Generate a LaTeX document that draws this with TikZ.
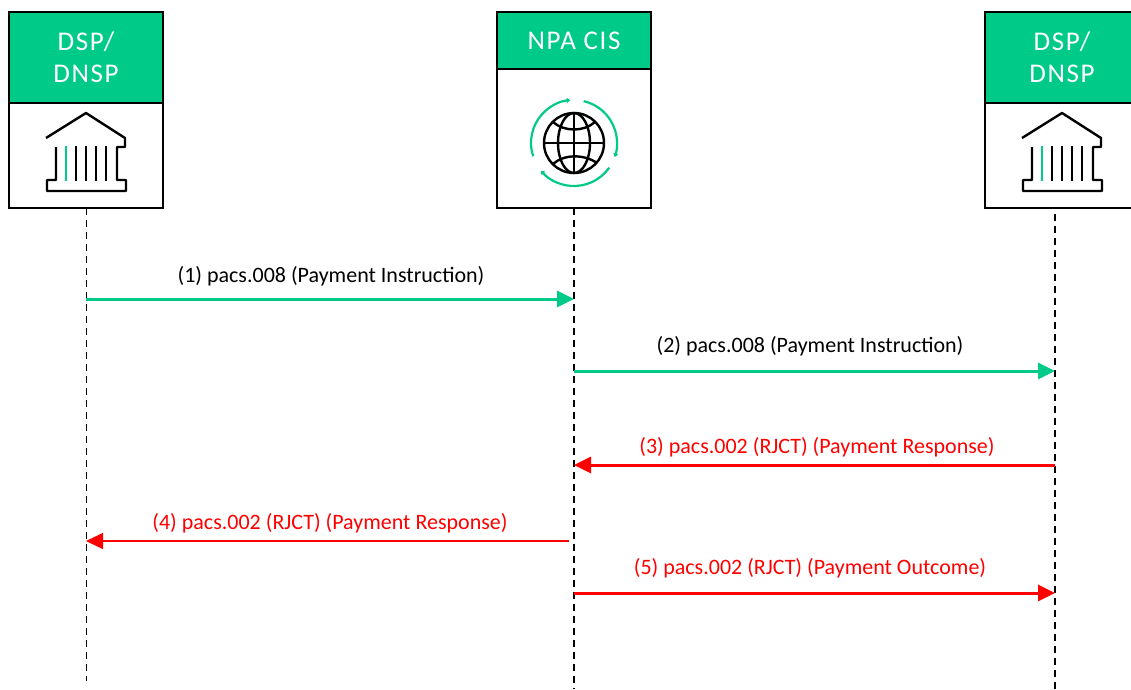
\documentclass[tikz,border=0pt]{standalone}
\usepackage{fontspec}
\setmainfont{Carlito}
\newfontfamily\headfont[LetterSpace=6]{Carlito}
\usetikzlibrary{arrows.meta}
\definecolor{npgreen}{HTML}{00CA88}
\definecolor{npred}{HTML}{FF0000}
\tikzset{
  x=1pt,y=-1pt,
  head/.style={draw=black,line width=2.2pt,outer sep=0pt,fill=npgreen,text=white,minimum width=154pt,inner sep=0pt,align=center,font=\headfont\fontsize{27}{32}\selectfont,anchor=north west},
  body/.style={draw=black,line width=2pt,outer sep=0pt,fill=white,minimum width=154pt,inner sep=0pt,anchor=north west},
  lifethin/.style={draw=black,line width=1pt,dash pattern=on 7pt off 5pt},
  lifethick/.style={draw=black,line width=2.4pt,dash pattern=on 7pt off 5pt},
  msggreen/.style={draw=npgreen,line width=3pt,-{Triangle[length=17pt,width=16pt]}},
  msgred/.style={draw=npred,line width=3pt,-{Triangle[length=17pt,width=16pt]}},
  msgredthin/.style={draw=npred,line width=1.2pt,-{Triangle[length=17pt,width=16pt]}},
  lbl/.style={font=\fontsize{22}{24}\selectfont,inner sep=0pt},
  icon/.style={draw=black,line width=2.4pt,line join=round},
  iconacc/.style={draw=npgreen,line width=2.2pt},
  bank/.pic={
    \draw[icon] (-40,25) -- (0,0) -- (39,25) -- (39,34) -- (31,34) -- (31,67) -- (40,67) -- (40,78) -- (-39,78) -- (-39,67) -- (-30,67) -- (-30,34);
    \draw[iconacc] (-20.3,33) -- (-20.3,68);
    \foreach \cx in {-10,0,10,20}{\draw[icon] (\cx,33) -- (\cx,68);}
  }
}
\begin{document}
\begin{tikzpicture}
\useasboundingbox (0,0) rectangle (1131,689);
% lane boxes
\node[body,minimum height=105pt] (b1) at (9,103) {};
\node[head,minimum height=91pt] (h1) at (9,12) {DSP/\\DNSP};
\node[body,minimum height=139pt] (b2) at (497,69) {};
\node[head,minimum height=57pt] (h2) at (497,12) {NPA CIS};
\node[body,minimum height=105pt] (b3) at (985,103) {};
\node[head,minimum height=91pt] (h3) at (985,12) {DSP/\\DNSP};
% lifeline coordinates
\coordinate (l1a) at (86,208); \coordinate (l1b) at (86,681);
\coordinate (l2a) at (574,208); \coordinate (l2b) at (574,689);
\coordinate (l3a) at (1055,214); \coordinate (l3b) at (1055,689);
\draw[lifethin] (l1a) -- (l1b);
\draw[lifethick] (l2a) -- (l2b);
\draw[lifethick] (l3a) -- (l3b);
% icons
\pic at (86,113) {bank};
\pic at (1062,113) {bank};
\begin{scope}[shift={(574,143)}]
  \draw[icon] (0,0) circle (30);
  \draw[icon] (0,-30) -- (0,30) (-30,0) -- (30,0);
  \draw[icon] (0,0) ellipse (16 and 30);
  \draw[icon] (-21,-21) .. controls (-10,-11) and (10,-11) .. (21,-21);
  \draw[icon] (-21,21) .. controls (-10,11) and (10,11) .. (23,20);
  \draw[iconacc,-{Triangle[length=3.5pt,width=5pt]}] (198:43 and -43) arc (-198:-95:43);
  \draw[iconacc,-{Triangle[length=3.5pt,width=5pt]}] (-77:43) arc (-77:19:43);
  \draw[iconacc,-{Triangle[length=3.5pt,width=5pt]}] (35:43) arc (35:140:43);
\end{scope}
% messages
\coordinate (m1a) at (86,299); \coordinate (m1b) at (574,299);
\coordinate (m2a) at (574,371); \coordinate (m2b) at (1055,371);
\coordinate (m3a) at (1055,465); \coordinate (m3b) at (574,465);
\coordinate (m4a) at (569,541); \coordinate (m4b) at (86,541);
\coordinate (m5a) at (574,593); \coordinate (m5b) at (1055,593);
\draw[msggreen] (m1a) -- (m1b);
\draw[msggreen] (m2a) -- (m2b);
\draw[msgred] (m3a) -- (m3b);
\draw[msgredthin] (m4a) -- (m4b);
\draw[msgred] (m5a) -- (m5b);
\node[lbl] (t1) at (331,276) {(1) pacs.008 (Payment Instruction)};
\node[lbl] (t2) at (810,346) {(2) pacs.008 (Payment Instruction)};
\node[lbl,text=npred] (t3) at (817,447) {(3) pacs.002 (RJCT) (Payment Response)};
\node[lbl,text=npred] (t4) at (330,523) {(4) pacs.002 (RJCT) (Payment Response)};
\node[lbl,text=npred] (t5) at (810,568) {(5) pacs.002 (RJCT) (Payment Outcome)};
\end{tikzpicture}
\end{document}
